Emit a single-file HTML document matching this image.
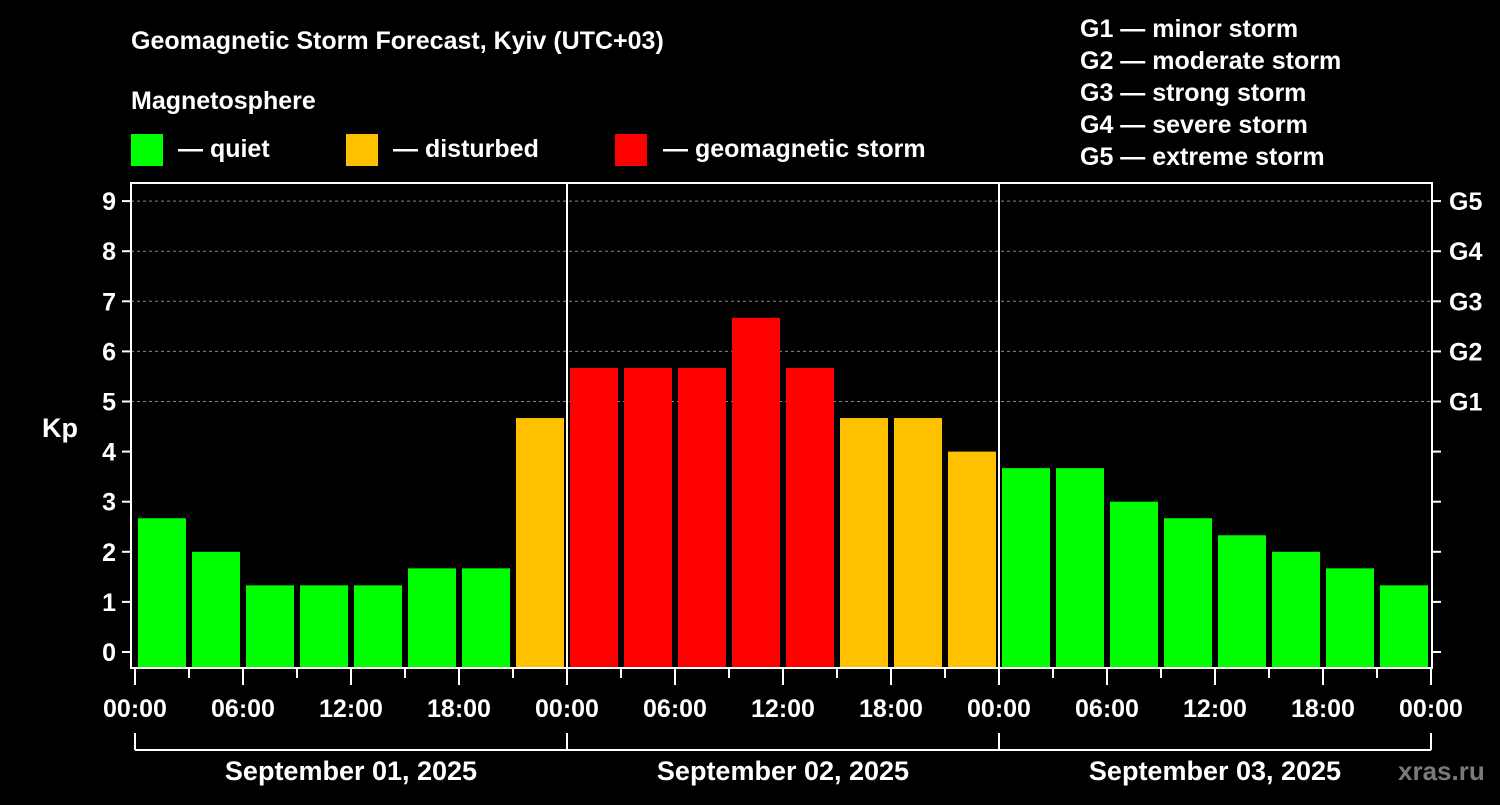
<!DOCTYPE html>
<html><head><meta charset="utf-8"><style>
body{margin:0;background:#000;width:1500px;height:800px;overflow:hidden}
svg{font-family:"Liberation Sans",sans-serif;font-weight:bold;fill:#fff}
</style></head><body>
<svg id="c" width="1500" height="800" viewBox="0 0 1500 800" xmlns="http://www.w3.org/2000/svg">
<rect width="1500" height="800" fill="#000"/>
<text x="131" y="49" font-size="25">Geomagnetic Storm Forecast, Kyiv (UTC+03)</text>
<text x="131" y="109" font-size="25">Magnetosphere</text>
<g><rect x="131" y="134" width="32" height="32" fill="#00ff00"/><text x="178" y="157" font-size="25">— quiet</text></g>
<g><rect x="346" y="134" width="32" height="32" fill="#ffc000"/><text x="393" y="157" font-size="25">— disturbed</text></g>
<g><rect x="615" y="134" width="32" height="32" fill="#ff0000"/><text x="663" y="157" font-size="25">— geomagnetic storm</text></g>
<g font-size="25">
<text x="1080" y="37">G1 — minor storm</text><text x="1080" y="69">G2 — moderate storm</text><text x="1080" y="101">G3 — strong storm</text><text x="1080" y="133">G4 — severe storm</text><text x="1080" y="165">G5 — extreme storm</text></g>
<text x="42" y="437" font-size="27">Kp</text>
<text x="1398" y="780" font-size="26" fill="#888" style="fill:#7a7a7a">xras.ru</text>
<g id="plot"></g>
</svg>
<script>
const values=[2.67,2,1.33,1.33,1.33,1.67,1.67,4.67,5.67,5.67,5.67,6.67,5.67,4.67,4.67,4,3.67,3.67,3,2.67,2.33,2,1.67,1.33];
const yTicks=[0,1,2,3,4,5,6,7,8,9];
const gLabels=["G1","G2","G3","G4","G5"];
const timeLabels=["00:00","06:00","12:00","18:00","00:00","06:00","12:00","18:00","00:00","06:00","12:00","18:00","00:00"];
const dayLabels=["September 01, 2025","September 02, 2025","September 03, 2025"];
const NS="http://www.w3.org/2000/svg",P=document.getElementById('plot');
const x0=135,slot=54,y0=652,ky=50.1,L=131,R=1432,T=183,B=668;
const X=i=>x0+i*slot, Y=v=>y0-v*ky;
function mk(t,a,p){const e=document.createElementNS(NS,t);for(const k in a)e.setAttribute(k,a[k]);(p||P).appendChild(e);return e;}
function col(v){return v>=5?'#ff0000':v>=4?'#ffc000':'#00ff00';}
for(let v=5;v<=9;v++){const l=mk('line',{x1:L,x2:R,y1:Y(v),y2:Y(v),stroke:'#888','stroke-dasharray':'3,3','stroke-width':1});

}
values.forEach((v,i)=>{const r=mk('rect',{x:X(i)+3,y:Y(v),width:48,height:B-Y(v),fill:col(v)});

});
const fr=mk('rect',{x:L,y:T,width:R-L,height:B-T,fill:'none',stroke:'#fff','stroke-width':2});


[1,2].forEach(d=>{const l=mk('line',{x1:X(d*8),x2:X(d*8),y1:T,y2:B,stroke:'#fff','stroke-width':2});

});
yTicks.forEach(v=>{mk('line',{x1:122,x2:L,y1:Y(v),y2:Y(v),stroke:'#fff','stroke-width':2});
mk('line',{x1:R,x2:1441,y1:Y(v),y2:Y(v),stroke:'#fff','stroke-width':2});
const t=mk('text',{x:116,y:Y(v)+9,'font-size':25,'text-anchor':'end'});t.textContent=v;

});
gLabels.forEach((g,i)=>{const t=mk('text',{x:1449,y:Y(5+i)+9,'font-size':25});t.textContent=g;

});
for(let i=0;i<=24;i++){mk('line',{x1:X(i),x2:X(i),y1:B,y2:i%2?678:685,stroke:'#fff','stroke-width':2});}
timeLabels.forEach((s,i)=>{const t=mk('text',{x:X(i*2),y:717,'font-size':25,'text-anchor':'middle'});t.textContent=s;

});
mk('line',{x1:X(0),x2:X(24),y1:750,y2:750,stroke:'#fff','stroke-width':2});
for(let d=0;d<=3;d++)mk('line',{x1:X(d*8),x2:X(d*8),y1:733,y2:750,stroke:'#fff','stroke-width':2});
dayLabels.forEach((s,d)=>{const t=mk('text',{x:X(d*8+4),y:780,'font-size':27,'text-anchor':'middle'});t.textContent=s;

});
</script>
</body></html>
